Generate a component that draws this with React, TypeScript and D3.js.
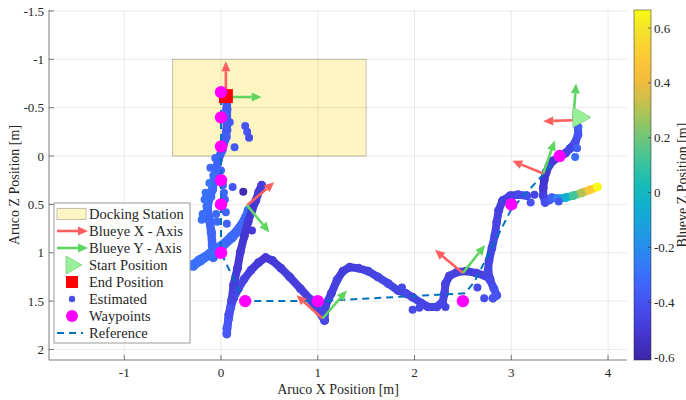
import React from 'react';
import * as d3 from 'd3';

// axis ticks
const xTicks = [-1, 0, 1, 2, 3, 4];
const yTicks = [-1.5, -1, -0.5, 0, 0.5, 1, 1.5, 2];
const cbTicks = [-0.6, -0.4, -0.2, 0, 0.2, 0.4, 0.6];

// docking station box [m]
const dockX = [-0.5, 1.5];
const dockZ = [-1, 0];

// waypoints
const waypointX = [0, 0, 0, 0, 0, 0, 0.25, 1.0, 2.5, 3.0, 3.5];
const waypointZ = [-0.66, -0.4, -0.1, 0.25, 0.5, 1.0, 1.5, 1.5, 1.5, 0.5, 0.0];

// reference path
const refX = [0, 0, 0.12, 0.2, 0.32, 1.0, 2.52, 2.62, 3.0, 3.55];
const refZ = [-0.6, 1.0, 1.25, 1.42, 1.5, 1.5, 1.42, 1.3, 0.55, -0.05];

const startPos = [3.72, -0.4];
const endPos = [0.05, -0.62];

// estimated track, [x, z, blueye z]
const tailTrack = [
  [3.42, 0.43, -0.35], [3.48, 0.44, -0.2], [3.56, 0.43, -0.05], [3.64, 0.41, 0.12],
  [3.73, 0.38, 0.3], [3.81, 0.35, 0.5], [3.89, 0.32, 0.66],
];
const startTrack = [
  [3.69, -0.3, -0.36], [3.69, -0.22, -0.4], [3.66, -0.14, -0.42], [3.61, -0.08, -0.45],
  [3.56, -0.03, -0.46], [3.5, 0.01, -0.47], [3.43, 0.05, -0.5], [3.39, 0.1, -0.48],
  [3.36, 0.17, -0.5], [3.34, 0.25, -0.52], [3.33, 0.33, -0.5], [3.33, 0.41, -0.47],
  [3.35, 0.48, -0.42], [3.4, 0.45, -0.4],
];
const climbTrack = [
  [3.16, 0.41, -0.42], [3.07, 0.4, -0.44], [2.99, 0.41, -0.46], [2.91, 0.46, -0.47],
  [2.87, 0.56, -0.47], [2.85, 0.68, -0.46], [2.83, 0.82, -0.45], [2.8, 0.95, -0.45],
  [2.77, 1.08, -0.46], [2.76, 1.18, -0.45], [2.78, 1.28, -0.44], [2.82, 1.37, -0.42],
  [2.85, 1.44, -0.4], [2.81, 1.47, -0.4],
];
const bumpTrack = [
  [2.78, 1.27, -0.45], [2.73, 1.24, -0.46], [2.64, 1.21, -0.47], [2.54, 1.19, -0.48],
  [2.44, 1.2, -0.47], [2.36, 1.24, -0.47], [2.32, 1.32, -0.46], [2.31, 1.42, -0.46],
  [2.29, 1.51, -0.45], [2.23, 1.56, -0.45], [2.14, 1.56, -0.46], [2.07, 1.52, -0.46],
  [1.98, 1.46, -0.46], [1.91, 1.42, -0.44], [1.83, 1.39, -0.45], [1.73, 1.32, -0.44],
  [1.62, 1.25, -0.45], [1.52, 1.19, -0.46], [1.42, 1.16, -0.47], [1.33, 1.15, -0.48],
  [1.26, 1.19, -0.48], [1.2, 1.28, -0.47], [1.14, 1.42, -0.47], [1.08, 1.55, -0.46],
  [1.07, 1.7, -0.44],
];
const valleyTrack = [
  [1.07, 1.7, -0.44], [1.0, 1.59, -0.46], [0.92, 1.48, -0.47], [0.82, 1.37, -0.48],
  [0.71, 1.25, -0.48], [0.62, 1.16, -0.49], [0.53, 1.08, -0.49], [0.46, 1.05, -0.5],
  [0.39, 1.1, -0.49], [0.31, 1.18, -0.48], [0.24, 1.27, -0.46], [0.18, 1.37, -0.44],
  [0.13, 1.47, -0.42], [0.1, 1.57, -0.4], [0.08, 1.68, -0.38], [0.06, 1.78, -0.38],
  [0.06, 1.84, -0.39], [0.08, 1.64, -0.42], [0.11, 1.49, -0.46], [0.13, 1.33, -0.48],
  [0.17, 1.16, -0.5], [0.2, 0.99, -0.5], [0.24, 0.83, -0.51], [0.28, 0.68, -0.5],
  [0.32, 0.56, -0.5], [0.36, 0.46, -0.5], [0.39, 0.37, -0.49], [0.42, 0.3, -0.48],
];
const wideTrack = [
  [-0.29, 1.13, -0.3], [-0.22, 1.08, -0.3], [-0.11, 1.01, -0.3], [0.01, 0.93, -0.31],
  [0.11, 0.84, -0.32], [0.2, 0.74, -0.33], [0.26, 0.64, -0.32], [0.29, 0.56, -0.3],
];
const columnTrack = [
  [-0.08, 1.05, -0.33], [-0.09, 0.92, -0.33], [-0.1, 0.79, -0.34], [-0.12, 0.66, -0.33],
  [-0.14, 0.56, -0.32], [-0.13, 0.46, -0.31], [-0.09, 0.35, -0.32], [-0.07, 0.25, -0.33],
  [-0.05, 0.14, -0.34], [-0.03, 0.04, -0.35], [0.01, -0.06, -0.36], [0.04, -0.17, -0.37],
  [0.06, -0.27, -0.38], [0.06, -0.37, -0.38], [0.06, -0.48, -0.38], [0.06, -0.58, -0.38],
];
const scatterDots = [
  [0.23, 0.37, -0.58], [0.12, 0.32, -0.4], [0.32, 0.77, -0.5], [0.09, -0.35, -0.38],
  [0.25, -0.31, -0.4], [0.27, -0.25, -0.4], [0.29, -0.19, -0.42], [0.14, -0.09, -0.38],
  [0.06, -0.2, -0.36], [-0.06, 0.02, -0.33], [-0.17, 0.45, -0.3], [-0.15, 0.52, -0.3],
  [-0.05, 0.6, -0.32], [0.04, 0.45, -0.36], [-0.12, 0.28, -0.28], [0.02, 0.3, -0.35],
  [-0.1, 0.42, -0.31], [-0.02, 0.5, -0.33], [-0.19, 0.6, -0.3], [-0.04, 0.68, -0.32],
  [0.05, 0.58, -0.34], [-0.08, 0.2, -0.3], [-0.11, 0.12, -0.32], [0.0, 0.15, -0.34],
  [-0.16, 0.38, -0.29], [0.03, 0.38, -0.33], [-0.2, 0.66, -0.3], [0.06, 0.7, -0.35],
  [3.66, 0.01, -0.3], [3.68, -0.08, -0.35], [3.2, 0.48, -0.4], [3.24, 0.4, -0.45],
  [3.0, 0.47, -0.44], [2.05, 1.57, -0.44], [1.98, 1.59, -0.43], [2.65, 1.36, -0.43],
  [2.72, 1.47, -0.42], [2.32, 1.56, -0.45], [1.87, 1.36, -0.44], [3.49, 0.47, -0.38],
];

// quiver arrows: origin and body axes
const arrowX = [0.05, 0.27, 1.05, 2.5, 3.33, 3.64];
const arrowZ = [-0.61, 0.51, 1.68, 1.21, 0.18, -0.37];
const xAxisDX = [0, 0.28, -0.27, -0.29, -0.32, -0.31];
const xAxisDZ = [-0.37, -0.24, -0.24, -0.24, -0.13, 0.01];
const yAxisDX = [0.37, 0.23, 0.25, 0.23, 0.12, 0.03];
const yAxisDZ = [0, 0.28, -0.29, -0.29, -0.34, -0.38];

const legendLabels = ['Docking Station', 'Blueye X - Axis', 'Blueye Y - Axis', 'Start Position',
  'End Position', 'Estimated', 'Waypoints', 'Reference'];

const width = 686;
const height = 400;
const plotLeft = 49;
const plotRight = 627;
const plotTop = 10;
const plotBottom = 360;
const cbLeft = 634;
const cbRight = 651;

const font = '"Liberation Serif", "Times New Roman", serif';
const textColor = '#262626';
const redArrow = '#ff5f5f';
const greenArrow = '#5fd55f';
const dockFill = '#fff5c2';

const x = d3.scaleLinear().domain([-1.778, 4.196]).range([plotLeft, plotRight]);
const y = d3.scaleLinear().domain([-1.51, 2.109]).range([plotTop, plotBottom]);
const cbScale = d3.scaleLinear().domain([-0.611, 0.666]).range([plotBottom, plotTop]);

const parula = d3.scaleLinear<string>()
  .domain([-0.611, -0.5, -0.4, -0.3, -0.2, -0.1, 0, 0.1, 0.2, 0.3, 0.4, 0.5, 0.6, 0.666])
  .range(['#3e26a8', '#4538d6', '#4753f3', '#3a6ffc', '#2a8ced', '#16a5da', '#0cb9c3',
    '#35c3a0', '#6ec67b', '#b3c452', '#f1ba3e', '#fdc935', '#f3e42a', '#f9fb15'])
  .clamp(true);

const Arrow = ({ x1, y1, x2, y2, color }) => {
  const ang = Math.atan2(y2 - y1, x2 - x1);
  const head = 10;
  const half = 4.5;
  const bx = x2 - head * Math.cos(ang);
  const by = y2 - head * Math.sin(ang);
  const px = -Math.sin(ang) * half;
  const py = Math.cos(ang) * half;
  return (
    <g>
      <line x1={x1} y1={y1} x2={bx} y2={by} stroke={color} strokeWidth={2.6} />
      <polygon points={`${x2},${y2} ${bx + px},${by + py} ${bx - px},${by - py}`} fill={color} />
    </g>
  );
};

const Track = ({ pts, w = 8 }) => (
  <g>
    {pts.slice(1).map((p, i) => {
      const q = pts[i];
      return (
        <line key={`s-${i}`} x1={x(q[0])} y1={y(q[1])} x2={x(p[0])} y2={y(p[1])}
          stroke={parula((p[2] + q[2]) / 2)} strokeWidth={w} strokeLinecap="round" />
      );
    })}
    {pts.map((p, i) => (
      <circle key={`c-${i}`} cx={x(p[0])} cy={y(p[1])} r={w / 2 + 0.4} fill={parula(p[2])} />
    ))}
  </g>
);

const App = () => {
  const refLine = d3.line<number>().x((d, i) => x(refX[i])).y((d, i) => y(refZ[i]));
  const legendX = 54;
  const legendY = 203;
  const rowH = 17;
  const rowY = (i) => legendY + 11 + i * rowH;
  const cbStops = d3.range(0, 1.0001, 0.05);

  return (
    <svg width={width} height={height} style={{ position: 'absolute', left: 0, top: 0, background: '#fff' }}
      fontFamily={font}>
      <defs>
        <linearGradient id="cb" x1="0" y1="1" x2="0" y2="0">
          {cbStops.map(t => (
            <stop key={t} offset={t} stopColor={parula(-0.611 + t * (0.666 + 0.611))} />
          ))}
        </linearGradient>
        <clipPath id="plot">
          <rect x={plotLeft} y={plotTop} width={plotRight - plotLeft} height={plotBottom - plotTop} />
        </clipPath>
      </defs>

      {/* docking station */}
      <rect x={x(dockX[0])} y={y(dockZ[0])} width={x(dockX[1]) - x(dockX[0])}
        height={y(dockZ[1]) - y(dockZ[0])} fill={dockFill} stroke="#c4c0ae" strokeWidth={1} />

      {/* grid */}
      {xTicks.map(t => (
        <line key={`gx${t}`} x1={x(t)} x2={x(t)} y1={plotTop} y2={plotBottom} stroke="#262626" strokeOpacity={0.09} />
      ))}
      {yTicks.map(t => (
        <line key={`gy${t}`} x1={plotLeft} x2={plotRight} y1={y(t)} y2={y(t)} stroke="#262626" strokeOpacity={0.09} />
      ))}

      <g clipPath="url(#plot)">
        <Track pts={columnTrack} w={8.5} />
        <Track pts={wideTrack} w={10} />
        <Track pts={valleyTrack} />
        <Track pts={bumpTrack} />
        <Track pts={climbTrack} />
        <Track pts={startTrack} />
        <Track pts={tailTrack} />
        {scatterDots.map((p, i) => (
          <circle key={`d${i}`} cx={x(p[0])} cy={y(p[1])} r={4} fill={parula(p[2])} />
        ))}

        <path d={refLine(refX)} fill="none" stroke="#0072bd" strokeWidth={2} strokeDasharray="7,5" />

        {arrowX.map((ax, i) => (
          <g key={`a${i}`}>
            <Arrow x1={x(ax)} y1={y(arrowZ[i])} x2={x(ax + xAxisDX[i])} y2={y(arrowZ[i] + xAxisDZ[i])} color={redArrow} />
            <Arrow x1={x(ax)} y1={y(arrowZ[i])} x2={x(ax + yAxisDX[i])} y2={y(arrowZ[i] + yAxisDZ[i])} color={greenArrow} />
          </g>
        ))}

        <rect x={x(endPos[0]) - 7} y={y(endPos[1]) - 7} width={14} height={14} fill="#ff0000" />
        {waypointX.map((wx, i) => (
          <circle key={`w${i}`} cx={x(wx)} cy={y(waypointZ[i])} r={6.2} fill="#ff00ff" />
        ))}
        <polygon
          points={`${x(startPos[0]) + 10},${y(startPos[1])} ${x(startPos[0]) - 8},${y(startPos[1]) - 10} ${x(startPos[0]) - 8},${y(startPos[1]) + 10}`}
          fill="#98f09a" stroke="#7fcf80" strokeWidth={0.8} />
      </g>

      {/* axes */}
      <line x1={plotLeft} x2={plotLeft} y1={plotTop} y2={plotBottom} stroke="#262626" strokeOpacity={0.6} />
      <line x1={plotLeft} x2={plotRight} y1={plotBottom} y2={plotBottom} stroke="#262626" strokeOpacity={0.6} />
      {xTicks.map(t => (
        <g key={`tx${t}`}>
          <line x1={x(t)} x2={x(t)} y1={plotBottom} y2={plotBottom - 5} stroke="#262626" strokeOpacity={0.6} />
          <text x={x(t)} y={377} textAnchor="middle" fontSize={13} fill={textColor}>{t}</text>
        </g>
      ))}
      {yTicks.map(t => (
        <g key={`ty${t}`}>
          <line x1={plotLeft} x2={plotLeft + 5} y1={y(t)} y2={y(t)} stroke="#262626" strokeOpacity={0.6} />
          <text x={44} y={y(t)} dy="0.35em" textAnchor="end" fontSize={13} fill={textColor}>{t}</text>
        </g>
      ))}
      <text x={(plotLeft + plotRight) / 2} y={394} textAnchor="middle" fontSize={14} fill={textColor}>Aruco X Position [m]</text>
      <text transform={`translate(19, ${(plotTop + plotBottom) / 2}) rotate(-90)`} textAnchor="middle"
        fontSize={14} fill={textColor}>Aruco Z Position [m]</text>

      {/* legend */}
      <rect x={legendX} y={legendY} width={136} height={140} fill="#fff" stroke="#9a9a9a" strokeWidth={1} />
      <rect x={57} y={rowY(0) - 5.5} width={29} height={11} fill={dockFill} stroke="#c4c0ae" />
      <Arrow x1={57} y1={rowY(1)} x2={88} y2={rowY(1)} color={redArrow} />
      <Arrow x1={57} y1={rowY(2)} x2={88} y2={rowY(2)} color={greenArrow} />
      <polygon points={`${82},${rowY(3)} ${66},${rowY(3) - 9} ${66},${rowY(3) + 9}`} fill="#98f09a" stroke="#7fcf80" strokeWidth={0.8} />
      <rect x={66} y={rowY(4) - 6} width={12} height={12} fill="#ff0000" />
      <circle cx={72} cy={rowY(5)} r={3.2} fill={parula(-0.42)} />
      <circle cx={72} cy={rowY(6)} r={6} fill="#ff00ff" />
      <line x1={57} x2={83} y1={rowY(7)} y2={rowY(7)} stroke="#0072bd" strokeWidth={2} strokeDasharray="7,5" />
      {legendLabels.map((l, i) => (
        <text key={l} x={89} y={rowY(i)} dy="0.35em" fontSize={14.5} fill={textColor}>{l}</text>
      ))}

      {/* colorbar */}
      <rect x={cbLeft} y={plotTop} width={cbRight - cbLeft} height={plotBottom - plotTop} fill="url(#cb)"
        stroke="#262626" strokeOpacity={0.5} />
      {cbTicks.map(t => (
        <g key={`cb${t}`}>
          <line x1={cbRight - 3} x2={cbRight} y1={cbScale(t)} y2={cbScale(t)} stroke="#262626" strokeOpacity={0.6} />
          <text x={654} y={cbScale(t)} dy="0.35em" fontSize={13} fill={textColor}>{t}</text>
        </g>
      ))}
      <text transform={`translate(687, ${(plotTop + plotBottom) / 2}) rotate(-90)`} textAnchor="middle"
        fontSize={14} fill={textColor}>Blueye Z Position [m]</text>
    </svg>
  );
};

export default App;
